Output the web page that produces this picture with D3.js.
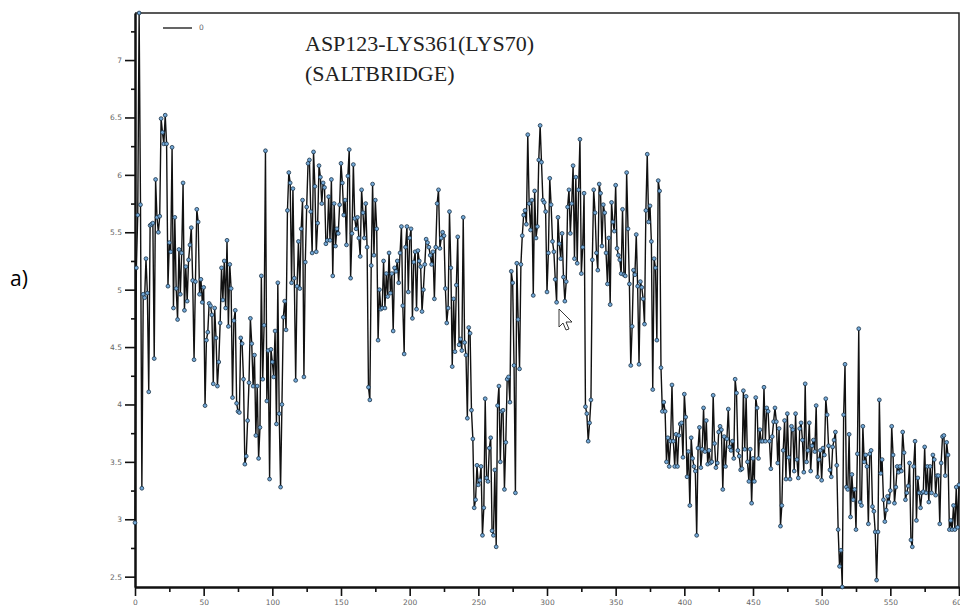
<!DOCTYPE html>
<html>
<head>
<meta charset="utf-8">
<script src="https://cdn.jsdelivr.net/npm/d3@7"></script>
<style>
	body { margin: 0; background: #fff; }
	svg { display: block; }
</style>
</head>
<body>
<svg id="chart" width="960" height="614"></svg>
<script>
// distance values, one per frame (0..600)
var seg0 = [2.97,5.19,5.65,7.41,5.74,3.27,4.96,4.93,5.27,4.97,
	4.11,5.56,5.57,5.58,4.40,5.96,5.63,5.50,5.64,6.49,
	6.37,6.27,6.52,6.27,5.03,5.41,5.33,6.24,4.84,5.63,
	5.01,4.74,5.35,4.96,5.32,5.93,4.82,5.20,4.90,5.26,
	5.39,5.54,5.08,4.39,5.07,5.70,5.59,4.96,5.09,4.89,
	5.02,3.99,4.56,4.63,4.88,4.86,4.78,4.18,4.84,4.58,
	4.16,4.37,4.71,5.19,4.91,5.25,4.84,5.43,4.68,5.22,
	5.01,4.06,4.73,4.82,4.01,3.94,3.93,4.58,4.53,4.22,
	3.48,3.55,3.86,4.19,4.75,4.53,4.16,4.43,3.73,4.16,
	3.53,3.80,5.12,4.22,4.69,6.21,4.03,4.47,3.35,4.48];
var seg1 = [4.37,4.24,4.64,3.83,5.06,3.92,3.28,4.00,4.76,4.90,
	4.65,5.69,6.02,5.93,5.06,5.88,5.10,4.21,5.03,5.42,
	5.01,5.53,5.78,4.24,5.24,5.72,6.10,6.13,5.68,5.32,
	6.20,5.90,5.33,5.58,6.08,5.98,5.75,5.93,5.89,5.40,
	5.43,5.81,5.43,5.96,5.12,5.75,5.38,5.53,5.49,5.74,
	6.10,5.93,5.65,5.78,5.39,5.99,6.22,5.10,5.49,6.09,
	5.62,5.53,5.63,5.45,5.29,5.87,5.67,5.45,5.75,5.37,
	4.15,4.04,5.21,5.92,5.30,5.78,5.53,4.56,5.00,4.83,
	4.84,5.25,4.84,5.14,4.94,5.32,4.97,5.14,4.64,5.19,
	5.16,5.25,5.06,5.32,5.55,4.86,4.44,5.37,5.55,4.98];
var seg2 = [5.45,5.53,4.75,5.24,5.33,4.83,5.34,5.25,5.20,4.81,
	5.00,5.22,5.44,5.41,5.37,5.30,5.22,5.33,4.92,5.37,
	5.75,5.87,5.36,5.45,5.50,5.47,5.01,4.71,4.84,5.68,
	5.19,4.33,4.92,4.46,5.04,5.46,4.52,4.57,4.47,5.63,
	4.54,4.43,3.88,4.67,4.62,3.95,3.70,3.10,3.17,3.47,
	3.30,3.34,3.46,2.86,3.10,4.05,3.36,3.33,3.62,3.71,
	2.90,2.86,3.43,2.76,3.99,4.16,3.50,3.94,3.95,3.26,
	3.67,4.22,4.24,4.02,5.16,5.06,4.34,3.23,5.23,4.74,
	4.31,5.22,5.47,5.65,5.69,5.57,6.35,5.75,5.52,5.78,
	4.95,5.86,5.45,5.55,6.13,6.43,6.11,5.78,5.76,5.68];
var seg3 = [4.98,5.32,5.97,5.74,5.42,5.33,5.09,4.89,5.63,5.40,
	5.27,5.49,5.11,4.90,5.07,5.72,5.87,5.49,5.75,6.08,
	5.27,5.98,5.23,5.87,6.31,5.14,5.37,5.84,3.98,3.92,
	3.68,3.84,4.04,5.26,5.87,5.67,5.32,5.17,5.92,5.84,
	5.38,5.74,5.67,5.32,5.05,5.45,4.87,5.76,5.59,5.51,
	5.91,5.36,5.30,5.26,5.14,5.70,5.13,5.12,6.02,5.53,
	5.05,4.34,4.68,5.17,5.13,5.48,5.03,4.35,5.07,5.02,
	4.92,4.70,5.69,6.18,5.59,5.73,5.42,4.13,5.27,5.19,
	4.56,5.95,5.86,4.32,3.94,4.02,3.94,3.50,3.71,3.46,
	3.68,4.17,3.68,3.46,3.74,3.46,3.73,3.83,3.84,3.54];
var seg4 = [4.09,3.89,3.37,3.59,3.12,3.71,3.53,3.46,3.42,2.86,
	3.62,3.80,3.45,3.61,3.97,3.59,3.86,3.48,3.60,3.49,
	3.50,4.08,3.66,3.45,3.49,3.76,3.81,3.78,3.26,3.72,
	3.46,3.70,3.96,3.63,3.60,3.68,3.53,4.22,4.10,3.60,
	3.55,3.43,3.44,4.12,3.61,4.07,3.50,3.33,3.61,3.14,
	3.53,3.33,4.06,3.97,3.53,3.78,3.68,3.68,4.15,3.68,
	3.97,3.94,3.68,3.44,3.72,3.85,3.97,3.85,3.49,3.79,
	2.94,3.12,3.60,3.86,3.35,3.92,3.54,3.35,3.81,3.78,
	3.42,3.92,3.52,3.36,3.79,3.84,3.69,3.41,4.18,3.50,
	3.60,3.84,3.42,3.64,3.69,3.59,3.99,3.37,3.52,3.60];
var seg5 = [3.34,3.62,3.56,4.05,3.91,3.64,3.43,3.37,3.63,3.69,
	3.76,3.47,2.91,2.59,2.73,2.41,3.91,4.35,3.28,3.26,
	3.74,3.02,3.39,3.17,3.26,2.91,3.57,4.66,3.15,3.12,
	3.81,3.50,3.56,3.46,2.96,3.57,3.60,3.11,3.07,2.89,
	2.47,2.89,4.04,3.40,3.52,3.17,2.98,3.08,3.20,3.15,
	3.25,3.81,3.56,3.14,3.28,3.46,3.41,3.46,3.42,3.76,
	3.58,3.17,3.23,3.29,3.49,2.82,2.76,3.46,3.68,2.99,
	3.36,3.23,3.10,3.23,3.24,3.63,3.23,3.46,3.15,3.46,
	3.23,3.56,3.52,3.21,3.38,3.38,2.96,3.49,3.72,3.73,
	3.38,3.67,3.56,2.91,2.99,2.91,3.12,2.91,3.28,2.93,
	3.30];

var xMajor = d3.range(0, 601, 50);
var xMinor = d3.range(25, 600, 50);
var yMajor = [2.5, 3, 3.5, 4, 4.5, 5, 5.5, 6, 6.5, 7];
var yMinor = [2.75, 3.25, 3.75, 4.25, 4.75, 5.25, 5.75, 6.25, 6.75, 7.25];

var titleLines = ["ASP123-LYS361(LYS70)", "(SALTBRIDGE)"];
var legendLabel = "0";
var panelLabel = "a)";

var data = [].concat(seg0, seg1, seg2, seg3, seg4, seg5)
	.map(function(v, i) { return { x: i, y: v }; });

var svg = d3.select("#chart");

var plotLeft = 135, plotRight = 959, plotTop = 13, plotBottom = 587;

var x = d3.scaleLinear().domain([0, 600]).range([plotLeft, plotRight]);
var y = d3.scaleLinear().domain([2.41, 7.41]).range([plotBottom, plotTop]);

// frame (top + right)
svg.append("path")
	.attr("d", "M" + plotLeft + "," + plotTop + "H" + plotRight + "V" + plotBottom)
	.attr("fill", "none")
	.attr("stroke", "#222")
	.attr("stroke-width", 1.5);

// axes
function styleAxis(g) {
	g.select(".domain").attr("stroke", "#111").attr("stroke-width", 2);
	g.selectAll(".tick line").attr("stroke", "#111").attr("stroke-width", 1.6);
	g.selectAll(".tick text")
		.attr("fill", "#666")
		.attr("font-family", "DejaVu Sans, sans-serif")
		.attr("font-size", 7.5);
}

svg.append("g")
	.attr("transform", "translate(0," + plotBottom + ")")
	.call(d3.axisBottom(x).tickValues(xMinor).tickSize(5).tickFormat("").tickSizeOuter(0))
	.call(styleAxis);
svg.append("g")
	.attr("transform", "translate(0," + plotBottom + ")")
	.call(d3.axisBottom(x).tickValues(xMajor).tickSize(9).tickPadding(4).tickSizeOuter(0))
	.call(styleAxis);

svg.append("g")
	.attr("transform", "translate(" + plotLeft + ",0)")
	.call(d3.axisLeft(y).tickValues(yMinor).tickSize(4).tickFormat("").tickSizeOuter(0))
	.call(styleAxis);
svg.append("g")
	.attr("transform", "translate(" + plotLeft + ",0)")
	.call(d3.axisLeft(y).tickValues(yMajor).tickSize(10).tickPadding(3)
		.tickFormat(d3.format("~g")).tickSizeOuter(0))
	.call(styleAxis);

// series
var line = d3.line()
	.x(function(d) { return x(d.x); })
	.y(function(d) { return y(d.y); });

svg.append("path")
	.datum(data)
	.attr("d", line)
	.attr("fill", "none")
	.attr("stroke", "#111")
	.attr("stroke-width", 1.4)
	.attr("stroke-linejoin", "round");

svg.append("g").selectAll("circle")
	.data(data)
	.enter().append("circle")
	.attr("cx", function(d) { return x(d.x); })
	.attr("cy", function(d) { return y(d.y); })
	.attr("r", 1.9)
	.attr("fill", "#74a9d8")
	.attr("stroke", "#1c3347")
	.attr("stroke-width", 0.8);

// legend
svg.append("line")
	.attr("x1", 163).attr("x2", 192)
	.attr("y1", 28).attr("y2", 28)
	.attr("stroke", "#111").attr("stroke-width", 1.3);
svg.append("text")
	.attr("x", 199).attr("y", 30)
	.attr("fill", "#666")
	.attr("font-family", "DejaVu Sans, sans-serif")
	.attr("font-size", 7.5)
	.text(legendLabel);

// title
svg.append("g").selectAll("text")
	.data(titleLines)
	.enter().append("text")
	.attr("x", 305)
	.attr("y", function(d, i) { return 51 + i * 30; })
	.attr("fill", "#222")
	.attr("font-family", "Liberation Serif, Times New Roman, serif")
	.attr("font-size", 22)
	.text(function(d) { return d; });

// panel label
svg.append("text")
	.attr("x", 10).attr("y", 286)
	.attr("fill", "#000")
	.attr("font-family", "Open Sans, Liberation Sans, sans-serif")
	.attr("font-size", 21)
	.text(panelLabel);

// mouse pointer left in the screenshot
svg.append("path")
	.attr("d", "M559,309 L559,327 L563,323 L566,330 L569,329 L566,322 L572,322 Z")
	.attr("fill", "#fff")
	.attr("stroke", "#222")
	.attr("stroke-width", 0.9)
	.attr("stroke-linejoin", "round");
</script>
</body>
</html>
